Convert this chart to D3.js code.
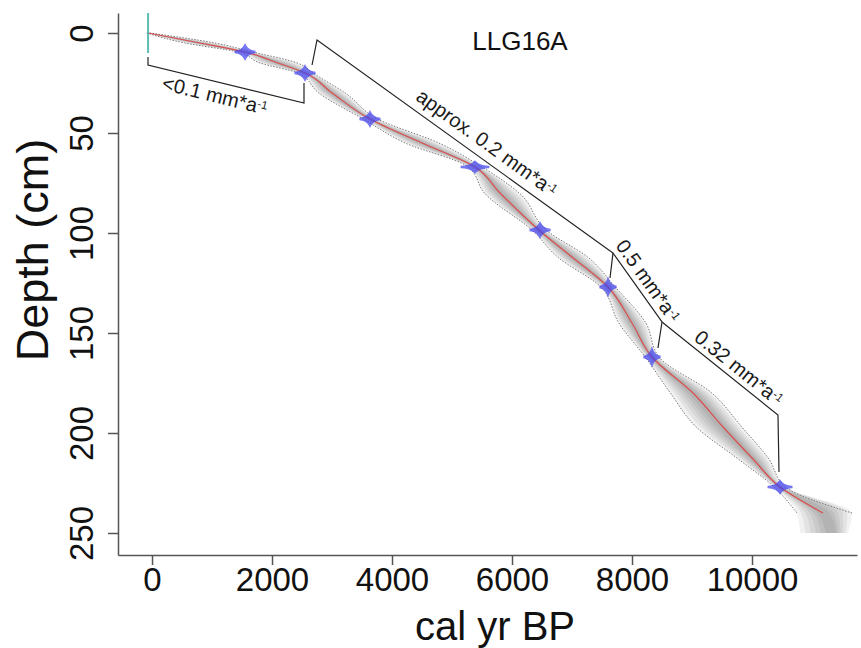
<!DOCTYPE html>
<html><head><meta charset="utf-8">
<script src="https://cdn.jsdelivr.net/npm/d3@7"></script>
<style>
html,body{margin:0;padding:0;background:#fff;}
text{font-family:"Liberation Sans",Arial,sans-serif;}
</style></head>
<body><svg id="chart" width="861" height="648"></svg>
<script>
// ---- data ----
const depthLevels = [0, 5, 9.5, 15, 20, 30, 43, 55, 67, 80, 99, 112, 127, 145, 162, 180, 197, 213, 227, 240, 250];
const ageMean     = [-66, 800, 1550, 2100, 2550, 3000, 3633, 4500, 5383, 5800, 6467, 7000, 7600, 8000, 8333, 9017, 9517, 10017, 10467, 11183, 11350];
const ageMin      = [-90, 550, 1430, 1800, 2430, 2780, 3520, 4220, 5270, 5540, 6350, 6760, 7480, 7780, 8220, 8640, 9070, 9770, 10370, 10750, 10800];
const ageMax      = [-40, 1050, 1680, 2420, 2680, 3220, 3760, 4780, 5500, 6120, 6590, 7260, 7720, 8230, 8450, 9330, 9830, 10280, 10560, 11667, 11600];

const dateAge   = [1550, 2550, 3633, 5383, 6467, 7600, 8333, 10467];
const dateDepth = [9.5, 20, 43, 67, 98.5, 127, 162, 227];
const dateSd    = [55, 55, 55, 75, 55, 45, 45, 65];
const surfaceAge = -66;

const xTicks = [0, 2000, 4000, 6000, 8000, 10000];
const yTicks = [0, 50, 100, 150, 200, 250];

const bracketAges   = [[-67, -67, 2533, 2533], [2667, 2750, 7683, 7633], [7683, 8500, 8433], [8500, 10433, 10450]];
const bracketDepths = [[12, 16, 35, 25], [16, 3.5, 110, 122.5], [110, 144.5, 157.5], [144.5, 191, 219.5]];
const rateLabels = ["<0.1 mm*a", "approx. 0.2 mm*a", "0.5 mm*a", "0.32 mm*a"];
const rateSup = "-1";
const coreName = "LLG16A";
const xTitle = "cal yr BP";
const yTitle = "Depth (cm)";

// ---- layout ----
const labelSeg = [1, 1, 0, 0];
const labelT = [0.45, 0.543, 0.51, 0.597];
const labelOff = [13.5, -16, -12.8, -12.6];

const svg = d3.select("#chart");
const x = d3.scaleLinear().domain([-567, 11750]).range([118, 857]);
const y = d3.scaleLinear().domain([-10, 261]).range([13, 555]);

const rows = depthLevels.map((d, i) => ({depth: d, mean: ageMean[i], lo: ageMin[i], hi: ageMax[i]}));
const lineRows = rows.filter(d => d.depth <= 240);

// shading (nested bands for a darker core)
const fracs = [1, 0.84, 0.68, 0.52, 0.37, 0.22];
fracs.forEach(f => {
  svg.append("path").datum(rows)
    .attr("d", d3.area().curve(d3.curveMonotoneY)
      .y(d => y(d.depth))
      .x0(d => x(d.mean - f * (d.mean - d.lo)))
      .x1(d => x(d.mean + f * (d.hi - d.mean))))
    .attr("fill", "#000").attr("fill-opacity", 0.055);
});

// dotted envelope
["lo", "hi"].forEach(k => {
  svg.append("path").datum(lineRows)
    .attr("d", d3.line().curve(d3.curveMonotoneY).x(d => x(d[k])).y(d => y(d.depth)))
    .attr("fill", "none").attr("stroke", "#7a7a7a").attr("stroke-width", 1)
    .attr("stroke-dasharray", "1.5,1.5");
});

// mean line
svg.append("path").datum(lineRows)
  .attr("d", d3.line().curve(d3.curveMonotoneY).x(d => x(d.mean)).y(d => y(d.depth)))
  .attr("fill", "none").attr("stroke", "#e23b3b").attr("stroke-width", 1.2).attr("stroke-opacity", 0.85);

// date distributions
dateAge.forEach((a, i) => {
  const sd = dateSd[i], dep = dateDepth[i];
  const peak = 450 / sd;
  const pts = d3.range(-3.2, 3.2001, 0.05).map(z => ({a: a + z * sd, h: peak * Math.exp(-0.95 * Math.abs(z)) + 0.9}));
  svg.append("path").datum(pts)
    .attr("d", d3.area().curve(d3.curveLinear).x(d => x(d.a)).y0(d => y(dep) - d.h).y1(d => y(dep) + d.h))
    .attr("fill", "#4343ee").attr("fill-opacity", 0.72);
});

// surface marker
svg.append("line")
  .attr("x1", x(surfaceAge)).attr("x2", x(surfaceAge))
  .attr("y1", y(-10)).attr("y2", y(10))
  .attr("stroke", "#3fb3a6").attr("stroke-width", 2).attr("stroke-opacity", 0.85);

// brackets
bracketAges.forEach((ages, i) => {
  const pts = ages.map((a, j) => [x(a), y(bracketDepths[i][j])]);
  svg.append("path").attr("d", d3.line()(pts))
    .attr("fill", "none").attr("stroke", "#222").attr("stroke-width", 1.2);
  const s = labelSeg[i];
  const A = pts[s], B = pts[s + 1];
  const dx = B[0] - A[0], dy = B[1] - A[1], len = Math.hypot(dx, dy);
  const ux = dx / len, uy = dy / len, nx = -uy, ny = ux;
  const t = labelT[i], o = labelOff[i];
  const cx = A[0] + dx * t + nx * o, cy = A[1] + dy * t + ny * o;
  const ang = Math.atan2(dy, dx) * 180 / Math.PI;
  const txt = svg.append("text")
    .attr("transform", `translate(${cx},${cy}) rotate(${ang})`)
    .attr("text-anchor", "middle").attr("dy", "0.35em")
    .attr("font-size", 20).attr("fill", "#1a1a1a")
    .text(rateLabels[i]);
  txt.append("tspan").attr("dy", "-0.45em").attr("font-size", 11.5).text(rateSup);
});

// axes
const gx = svg.append("g").attr("transform", `translate(0,${y.range()[1]})`)
  .call(d3.axisBottom(x).tickValues(xTicks).tickSize(10).tickSizeOuter(0).tickPadding(4).tickFormat(d3.format("d")));
const gy = svg.append("g").attr("transform", `translate(${x.range()[0]},0)`)
  .call(d3.axisLeft(y).tickValues(yTicks).tickSize(10).tickSizeOuter(0).tickFormat(d3.format("d")));
[gx, gy].forEach(g => {
  g.select(".domain").attr("stroke", "#555").attr("stroke-width", 1.5);
  g.selectAll(".tick line").attr("stroke", "#555").attr("stroke-width", 1.5);
  g.selectAll("text").attr("fill", "#111").attr("font-size", 33)
    .attr("font-family", "'Liberation Sans', Arial, sans-serif");
});
gx.selectAll(".tick text").attr("y", 13).attr("dy", "0.71em");
gy.selectAll(".tick text")
  .attr("transform", "rotate(-90)").attr("x", 0).attr("y", -25).attr("dy", 0)
  .attr("text-anchor", "middle");

// titles
svg.append("text").attr("x", 495).attr("y", 640).attr("text-anchor", "middle")
  .attr("font-size", 40).attr("fill", "#111").text(xTitle);
svg.append("text").attr("transform", "translate(48,250) rotate(-90)").attr("text-anchor", "middle")
  .attr("font-size", 45).attr("fill", "#111").text(yTitle);
svg.append("text").attr("x", 520).attr("y", 50).attr("text-anchor", "middle")
  .attr("font-size", 26).attr("fill", "#111").text(coreName);
</script>
</body></html>
